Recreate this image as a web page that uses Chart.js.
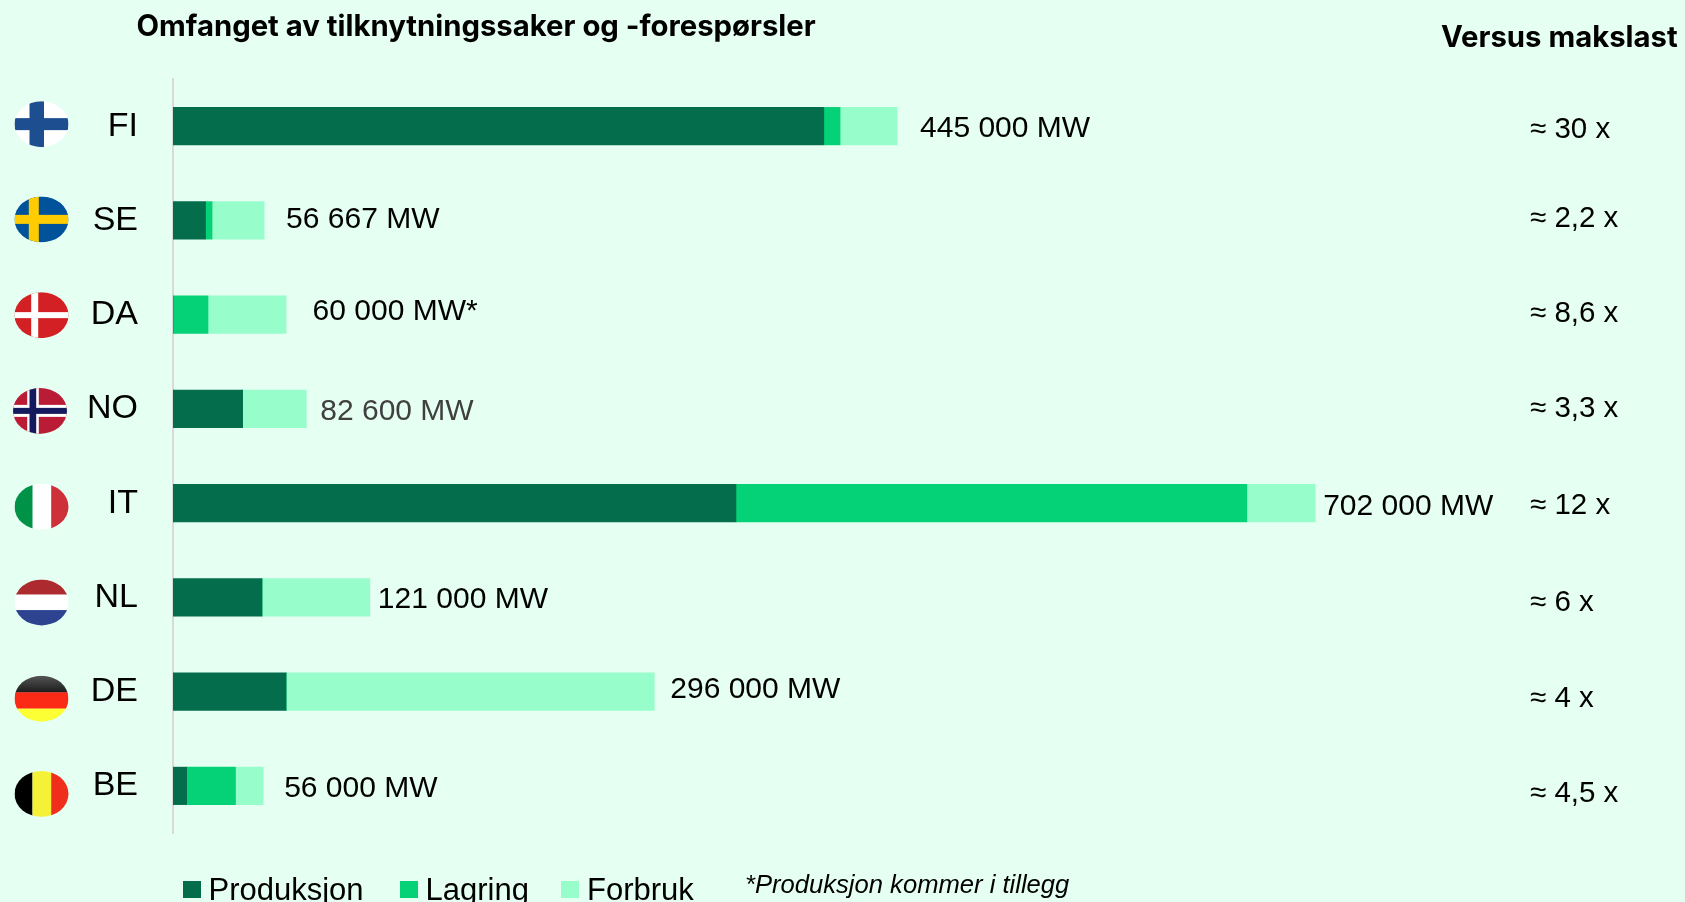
<!DOCTYPE html>
<html>
<head>
<meta charset="utf-8">
<style>
  html, body { margin: 0; padding: 0; background: #e6fff3; }
  canvas { display: block; }
</style>
<script src="https://cdn.jsdelivr.net/npm/chart.js@4"></script>
</head>
<body>
<canvas id="chartSpace" width="1685" height="902"></canvas>
<script>
const categories = ['FI', 'SE', 'DA', 'NO', 'IT', 'NL', 'DE', 'BE'];
const produksjon = [400000, 20000, 0, 42800, 346000, 54700, 69500, 8400];
const lagring = [10000, 4000, 21500, 0, 314000, 0, 0, 30000];
const forbruk = [35000, 32000, 48000, 39100, 42000, 66300, 226300, 17000];
const totalLabels = ['445 000 MW', '56 667 MW', '60 000 MW*', '82 600 MW', '702 000 MW', '121 000 MW', '296 000 MW', '56 000 MW'];
const versusLabels = ['≈ 30 x', '≈ 2,2 x', '≈ 8,6 x', '≈ 3,3 x', '≈ 12 x', '≈ 6 x', '≈ 4 x', '≈ 4,5 x'];

// hand placement, the source slide is not quite regular
const labelGap = [23, 22, 26.5, 14, 8, 8, 16, 21];
const labelDy = [3, -1, -3, 3, 4, 2.5, -2.3, 3];
const versusDy = [4, -2, -1, 0, 3, 5, 7, 8];
const flagDy = [-2, -1, 0.5, 2, 3.7, 5, 7, 8];

const FONT = '"Liberation Sans", sans-serif';
const BOLD_FONT = 'Inter, sans-serif';
const DARK = '#046d4b';
const MID = '#05d277';
const LIGHT = '#96fdcb';

function rect(ctx, color, x, y, w, h) {
  ctx.fillStyle = color;
  ctx.fillRect(x, y, w, h);
}

function drawFlag(ctx, code, cx, cy) {
  const rx = 27, ry = 23;
  ctx.save();
  ctx.beginPath();
  ctx.ellipse(cx, cy, rx, ry, 0, 0, Math.PI * 2);
  ctx.clip();
  const L = cx - rx, T = cy - ry, W = rx * 2, H = ry * 2;
  if (code === 'FI') {
    rect(ctx, '#ffffff', L, T, W, H);
    rect(ctx, '#1d4e8f', cx - 12, T, 14.5, H);
    rect(ctx, '#1d4e8f', L, cy - 6, W, 12);
  } else if (code === 'SE') {
    rect(ctx, '#00529b', L, T, W, H);
    rect(ctx, '#fecc00', cx - 12.7, T, 10, H);
    rect(ctx, '#fecc00', L, cy - 4.5, W, 9);
  } else if (code === 'DA') {
    rect(ctx, '#d32024', L, T, W, H);
    rect(ctx, '#ffffff', cx - 10.3, T, 7, H);
    rect(ctx, '#ffffff', L, cy - 3, W, 6);
  } else if (code === 'NO') {
    rect(ctx, '#ba1c35', L, T, W, H);
    rect(ctx, '#ffffff', cx - 12.8, T, 11.6, H);
    rect(ctx, '#ffffff', L, cy - 6, W, 12);
    rect(ctx, '#141a5e', cx - 10.5, T, 6.7, H);
    rect(ctx, '#141a5e', L, cy - 3, W, 6);
  } else if (code === 'IT') {
    rect(ctx, '#ffffff', L, T, W, H);
    rect(ctx, '#009246', L, T, rx - 9, H);
    rect(ctx, '#ce3039', cx + 9.7, T, rx, H);
  } else if (code === 'NL') {
    rect(ctx, '#ad2b2f', L, T, W, ry - 7.7);
    rect(ctx, '#ffffff', L, cy - 7.7, W, 15.4);
    rect(ctx, '#2d4390', L, cy + 7.7, W, ry);
  } else if (code === 'DE') {
    const g = ctx.createLinearGradient(0, T, 0, cy - 6);
    g.addColorStop(0, '#555555');
    g.addColorStop(1, '#1c1c1c');
    rect(ctx, g, L, T, W, ry - 6);
    rect(ctx, '#fb2a17', L, cy - 6.3, W, 16.5);
    rect(ctx, '#fbff33', L, cy + 10, W, ry);
  } else if (code === 'BE') {
    rect(ctx, '#000000', L, T, rx - 9, H);
    rect(ctx, '#f5f136', cx - 9, T, 18.7, H);
    rect(ctx, '#ef2f1b', cx + 9.7, T, rx, H);
  }
  ctx.restore();
}

const slideExtras = {
  id: 'slideExtras',
  afterDatasetsDraw(chart) {
    const ctx = chart.ctx;
    const xs = chart.scales.x, ys = chart.scales.y;
    ctx.save();
    ctx.textBaseline = 'middle';
    ctx.textAlign = 'left';

    categories.forEach(function(code, i) {
      const y = ys.getPixelForValue(i);
      const total = produksjon[i] + lagring[i] + forbruk[i];
      ctx.font = '30px ' + FONT;
      ctx.fillStyle = code === 'NO' ? '#404040' : '#000000';
      ctx.fillText(totalLabels[i], xs.getPixelForValue(total) + labelGap[i], y + labelDy[i]);
      ctx.fillStyle = '#000000';
      ctx.font = '29.5px ' + FONT;
      ctx.fillText(versusLabels[i], 1530, y + versusDy[i]);
      drawFlag(ctx, code, code === 'NO' ? 40 : 41.5, y + flagDy[i]);
    });

    ctx.fillStyle = '#000000';
    ctx.font = 'bold 29.3px ' + BOLD_FONT;
    ctx.fillText('Omfanget av tilknytningssaker og -forespørsler', 136.5, 27);
    ctx.fillText('Versus makslast', 1441, 38);

    // legend, the built in one can't do this box to text spacing
    const boxX = [183, 400, 561];
    const textX = [208.5, 425.5, 587];
    chart.data.datasets.forEach(function(ds, i) {
      rect(ctx, ds.backgroundColor, boxX[i], 881, 18, 17);
      ctx.fillStyle = '#000000';
      ctx.font = '31px ' + FONT;
      ctx.fillText(ds.label, textX[i], 891);
    });
    ctx.font = 'italic 25.6px ' + FONT;
    ctx.fillText('*Produksjon kommer i tillegg', 745, 885.5);
    ctx.restore();
  }
};

new Chart(document.getElementById('chartSpace'), {
  type: 'bar',
  plugins: [slideExtras],
  data: {
    labels: categories,
    datasets: [
      { label: 'Produksjon', data: produksjon, backgroundColor: DARK },
      { label: 'Lagring', data: lagring, backgroundColor: MID },
      { label: 'Forbruk', data: forbruk, backgroundColor: LIGHT }
    ]
  },
  options: {
    indexAxis: 'y',
    responsive: false,
    animation: false,
    layout: { padding: { top: 79, bottom: 69, left: 0, right: 7 } },
    datasets: { bar: { barThickness: 37.5 } },
    plugins: {
      legend: { display: false },
      tooltip: { enabled: false }
    },
    scales: {
      x: { stacked: true, display: false, min: 0, max: 925000 },
      y: {
        stacked: true,
        afterFit: function(scale) { scale.width = 173; },
        grid: { display: false, drawTicks: false },
        border: { color: '#d9d9d9', width: 2 },
        ticks: {
          color: '#000000',
          padding: 35,
          labelOffset: 0,
          font: { family: FONT, size: 34 }
        }
      }
    }
  }
});
</script>
</body>
</html>
